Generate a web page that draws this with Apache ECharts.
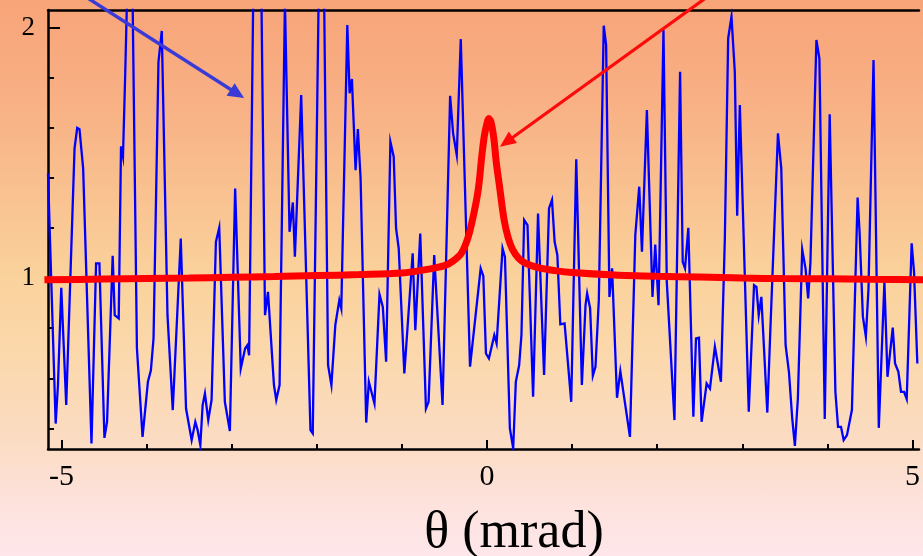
<!DOCTYPE html>
<html><head><meta charset="utf-8">
<script src="https://cdn.jsdelivr.net/npm/echarts@6/dist/echarts.min.js"></script>
<style>
html,body{margin:0;padding:0;width:923px;height:556px;overflow:hidden;}
body{background:linear-gradient(to bottom,#f8a479 0%,#f8b084 18%,#f9c391 36%,#fad29c 50%,#fbd8ac 64%,#fbdcc4 80%,#fde2dc 90%,#fee6ea 100%);}
#chart{width:923px;height:556px;}
</style></head><body><div id="chart"></div>
<script>
// measured blue signal (theta in mrad, normalised intensity)
const blueTheta = [
-5.158,-5.135,-5.068,-5.041,-5.002,-4.944,-4.846,-4.815,-4.788,-4.745,-4.647,-4.593,-4.554,-4.495,-4.464,-4.398,-4.374,-4.327,-4.300,-4.277,-4.250,-4.222,-4.168,-4.113,-4.047,-3.984,-3.949,-3.918,-3.860,-3.821,-3.754,-3.692,-3.598,-3.536,-3.470,
-3.427,-3.400,-3.368,-3.341,-3.314,-3.275,-3.236,-3.185,-3.146,-3.080,-3.021,-2.959,-2.893,-2.842,-2.815,-2.795,-2.698,-2.608,-2.573,-2.503,-2.476,-2.437,-2.374,-2.320,-2.281,-2.257,-2.183,-2.074,-2.047,-1.942,-1.867,-1.828,-1.782,
-1.735,-1.712,-1.641,-1.614,-1.587,-1.544,-1.517,-1.485,-1.419,-1.388,-1.322,-1.263,-1.224,-1.185,-1.135,-1.096,-1.068,-1.037,-0.971,-0.873,-0.842,-0.784,-0.717,-0.686,-0.620,-0.522,-0.433,-0.398,-0.355,-0.308,-0.199,-0.074,
-0.043,-0.012,0.023,0.086,0.113,0.183,0.211,0.269,0.308,0.339,0.378,0.405,0.437,0.476,0.542,0.600,0.671,0.729,0.764,0.795,0.827,0.862,0.912,0.990,1.049,1.115,1.158,1.177,1.212,1.244,1.275,1.314,1.372,1.400,1.439,1.470,1.528,1.567,
1.680,1.743,1.789,1.821,1.879,1.945,1.977,2.016,2.074,2.113,2.203,2.269,2.300,2.327,2.366,2.425,2.456,2.491,2.522,2.581,2.620,2.678,2.749,2.795,2.834,2.873,2.912,2.940,2.971,3.076,3.138,3.166,3.193,3.224,3.294,3.329,
3.419,3.458,3.509,3.548,3.587,3.618,3.653,3.704,3.743,3.774,3.801,3.871,3.906,3.969,4.027,4.094,4.125,4.160,4.191,4.230,4.288,4.355,4.378,4.417,4.452,4.483,4.542,4.604,4.670,4.706,4.768,4.795,4.834,4.865,4.901,4.932,4.990,5.018,5.057
];
const blueSignal = [
1.418,1.158,0.419,0.573,0.961,0.493,1.518,1.600,1.595,1.438,0.340,1.059,1.059,0.362,0.426,1.089,0.852,0.839,1.527,1.485,1.824,2.224,2.224,0.719,0.366,0.586,0.632,0.759,1.864,1.987,0.852,0.473,1.158,0.479,0.353,
0.426,0.393,0.333,0.493,0.539,0.433,0.513,1.145,1.201,0.506,0.389,1.358,0.639,0.719,0.732,0.692,3.555,0.852,0.945,0.573,0.513,0.573,2.104,1.185,1.302,1.085,1.731,0.393,0.380,3.023,0.652,0.573,0.812,
0.912,0.879,2.011,1.738,1.795,1.431,1.595,1.398,0.423,0.586,0.499,0.935,0.885,0.666,1.545,1.485,1.198,1.119,0.619,1.099,0.792,1.178,0.479,0.506,1.092,0.493,1.728,1.578,1.491,1.955,0.646,1.039,
1.009,0.699,0.679,0.772,0.739,1.119,1.085,0.400,0.320,0.586,0.652,0.772,1.232,1.212,0.526,1.258,0.613,1.278,1.312,1.145,1.092,0.815,0.819,0.506,1.475,0.573,0.892,0.939,0.879,0.610,0.646,0.912,2.008,1.931,0.925,1.039,0.522,0.628,
0.366,1.172,1.365,1.105,1.671,0.925,1.134,0.892,1.991,0.985,0.433,1.824,1.065,1.039,1.201,0.446,0.759,0.762,0.426,0.579,0.559,0.726,0.586,1.158,1.957,2.044,1.824,1.249,1.691,0.466,0.972,0.965,0.852,0.925,0.463,0.786,
1.578,1.438,0.732,0.626,0.439,0.330,0.519,1.115,1.039,0.919,1.065,1.951,1.877,0.437,1.654,0.546,0.406,0.406,0.353,0.373,0.473,1.322,1.185,0.846,0.766,0.959,1.871,0.402,0.985,0.606,0.802,0.659,0.626,0.546,0.546,0.517,1.139,1.025,0.659
];
// red curve
const redTheta = [-5.2,-4.5,-4.0,-3.5,-3.0,-2.5,-2.0,-1.5,-1.0,-0.7,-0.5,-0.4,-0.3,-0.22,-0.15,-0.1,-0.06,-0.03,0.0,0.02,0.045,0.08,0.11,0.15,0.2,0.25,0.3,0.37,0.45,0.6,0.8,1.0,1.5,2.0,2.5,3.0,3.5,4.0,4.5,5.2];
const redSignal = [0.993,0.996,0.998,1.000,1.003,1.006,1.010,1.014,1.020,1.035,1.050,1.068,1.100,1.165,1.265,1.360,1.490,1.570,1.618,1.637,1.626,1.560,1.460,1.360,1.235,1.160,1.115,1.080,1.060,1.042,1.030,1.022,1.012,1.007,1.004,1.000,0.998,0.997,0.995,0.993];

const xTickValues = [-5,-4,-3,-2,-1,0,1,2,3,4,5];
const xLabelValues = [-5,0,5];
const yMinorTicks = [0.4,0.6,0.8,1.0,1.2,1.4,1.6,1.8,2.0];
const yLabelValues = [1,2];
const xTitle = 'θ (mrad)';
const blueArrow = {from:[-4.842,2.151], to:[-2.854,1.719]};
const redArrow = {from:[2.702,2.151], to:[0.152,1.525]};

const X_MIN = -5.158, X_MAX = 5.076, Y_MIN = 0.3175, Y_MAX = 2.0707;
const FONT = '"Liberation Serif", "Times New Roman", serif';

const chart = echarts.init(document.getElementById('chart'), null, {renderer:'canvas'});
const axisLineStyle = {color:'#000', width:2.5};
const tickStyle = {color:'#000', width:2};

chart.setOption({
  animation:false,
  backgroundColor:'transparent',
  grid:{left:48, top:10, right:0, bottom:107, show:false},
  xAxis:[
    {type:'value', min:X_MIN, max:X_MAX, position:'bottom',
     axisLine:{show:true, onZero:false, lineStyle:axisLineStyle},
     axisTick:{show:true, inside:true, length:5, customValues:xTickValues, lineStyle:tickStyle},
     axisLabel:{show:false}, splitLine:{show:false}},
    {type:'value', min:X_MIN, max:X_MAX, position:'bottom',
     axisLine:{show:false, onZero:false},
     axisTick:{show:true, inside:true, length:9, customValues:xLabelValues, lineStyle:tickStyle},
     axisLabel:{show:true, customValues:xLabelValues, fontFamily:FONT, fontSize:30, color:'#000', margin:13},
     splitLine:{show:false}},
    {type:'value', min:X_MIN, max:X_MAX, position:'top',
     axisLine:{show:true, onZero:false, lineStyle:axisLineStyle},
     axisTick:{show:false}, axisLabel:{show:false}, splitLine:{show:false}}
  ],
  yAxis:[
    {type:'value', min:Y_MIN, max:Y_MAX, position:'left',
     axisLine:{show:true, onZero:false, lineStyle:axisLineStyle},
     axisTick:{show:true, inside:true, length:6, customValues:yMinorTicks, lineStyle:tickStyle},
     axisLabel:{show:false}, splitLine:{show:false}},
    {type:'value', min:Y_MIN, max:Y_MAX, position:'left',
     axisLine:{show:false, onZero:false},
     axisTick:{show:true, inside:true, length:12, customValues:yLabelValues, lineStyle:tickStyle},
     axisLabel:{show:true, customValues:yLabelValues, fontFamily:FONT, fontSize:27, color:'#000', margin:13},
     splitLine:{show:false}}
  ],
  series:[
    {type:'line', xAxisIndex:0, yAxisIndex:0, clip:true, symbol:'none', z:2,
     data: blueTheta.map((t,i)=>[t, blueSignal[i]]),
     lineStyle:{color:'#0000ff', width:2.3, join:'miter'}},
    {type:'line', xAxisIndex:0, yAxisIndex:0, clip:true, symbol:'none', z:3,
     smooth:0.3,
     data: redTheta.map((t,i)=>[t, redSignal[i]]),
     lineStyle:{color:'#ff0000', width:7}}
  ]
});

function arrow(def, color, width, L, W){
  const a = chart.convertToPixel({xAxisIndex:0, yAxisIndex:0}, def.from);
  const b = chart.convertToPixel({xAxisIndex:0, yAxisIndex:0}, def.to);
  const dx=b[0]-a[0], dy=b[1]-a[1], len=Math.hypot(dx,dy), ux=dx/len, uy=dy/len;
  const bx=b[0]-ux*L, by=b[1]-uy*L;
  return [
    {type:'line', z:20, shape:{x1:a[0], y1:a[1], x2:bx+ux*2, y2:by+uy*2}, style:{stroke:color, lineWidth:width}},
    {type:'polygon', z:20, shape:{points:[[b[0],b[1]],[bx-uy*W/2,by+ux*W/2],[bx+uy*W/2,by-ux*W/2]]}, style:{fill:color}}
  ];
}

chart.setOption({
  graphic:[
    ...arrow(blueArrow, '#3a3ad6', 3.4, 16, 15),
    ...arrow(redArrow, '#ff0a0a', 3.2, 16, 14),
    {type:'text', z:20, x:514, y:533, style:{text:xTitle, fontFamily:FONT, fontSize:52, fill:'#000', align:'center', verticalAlign:'middle'}}
  ]
});
</script></body></html>
